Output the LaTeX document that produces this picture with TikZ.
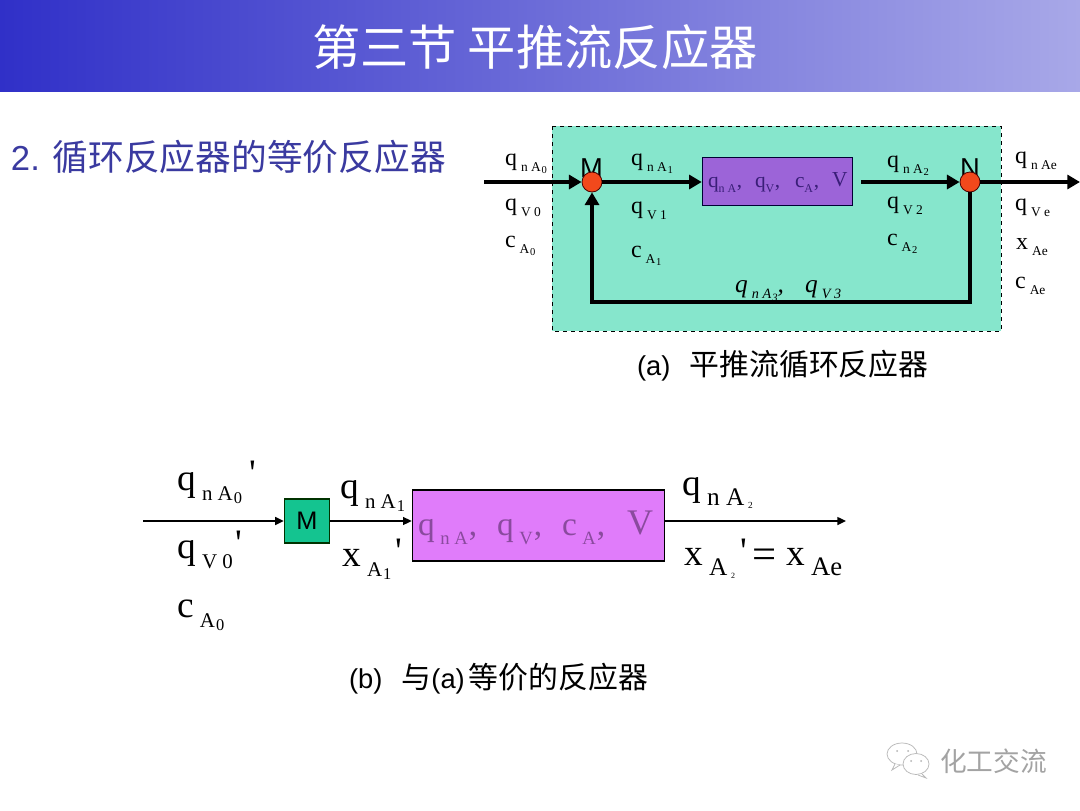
\documentclass[tikz,border=0pt]{standalone}
\usepackage{fontspec}
\setmainfont{Liberation Serif}
\newfontfamily\prm{Liberation Serif}
\newfontfamily\hv{Liberation Sans}
\newfontfamily\cjk{Noto Sans CJK SC}
\usetikzlibrary{arrows.meta}
\definecolor{tealbg}{HTML}{86E6CC}
\definecolor{purplebox}{HTML}{9C64D8}
\definecolor{pinkbox}{HTML}{E07CFA}
\definecolor{pinktext}{HTML}{8A4A9E}
\definecolor{purpletext}{HTML}{3A1E78}
\definecolor{dotred}{HTML}{F2491C}
\definecolor{mgreen}{HTML}{14C490}
\definecolor{headblue}{HTML}{3A3AA0}
\definecolor{bandleft}{HTML}{3030C8}
\definecolor{bandright}{HTML}{A8A8E8}
\newcommand\szf[1]{\fontsize{#1}{#1}\selectfont}
\def\qgap{.17em}
% size(pt), main letter, subscript, sub-subscript
\newcommand\qty[4]{{\szf{#1pt}#2\hspace{\qgap}\raisebox{-.27em}{\szf{\the\dimexpr #1pt*56/100\relax}#3}\hspace{.03em}\raisebox{-.36em}{\szf{\the\dimexpr #1pt*44/100\relax}#4}}}
\tikzset{
  lbl/.style={anchor=base west,inner sep=0pt,outer sep=0pt},
  thickflow/.style={line width=3.5pt,-{Triangle[length=9.5pt,width=10.5pt]}},
  thickpipe/.style={line width=3.5pt,line cap=butt,line join=miter},
  thinflow/.style={line width=1pt,black,-{Triangle[length=6.5pt,width=6pt]}},
  dot/.style={circle,draw=black!70!red,line width=.6pt,fill=dotred,minimum size=15pt,inner sep=0pt},
  wm/.style={draw=black!28,line width=.55pt,fill=white}
}
\begin{document}
\begin{tikzpicture}[x=.75pt,y=-.75pt]
\useasboundingbox (0,0) rectangle (1080,810);
\fill[white] (0,0) rectangle (1080,810);
\shade[left color=bandleft,right color=bandright] (0,0) rectangle (1080,91);
\node[white,inner sep=0pt] (title) at (535,47) {\cjk\szf{36.2pt}第三节 平推流反应器};
\node[lbl,text=headblue] (heading) at (11,170) {\hv\szf{26pt}2. {\cjk\szf{26.8pt}循环反应器的等价反应器}};

% --- diagram (a)
\draw[fill=tealbg,draw=black,dashed,line width=.7pt] (552,126) rectangle (1001,331);
\node[draw=black!80!blue,line width=.7pt,fill=purplebox,minimum width=113pt,minimum height=36pt,inner sep=0pt] (ra) at (777.5,181) {};
\node[lbl,text=black] (Mt) at (580,177) {\hv\szf{20.5pt}M};
\node[lbl,text=black] (Nt) at (960,177) {\hv\szf{20.5pt}N};
\node[lbl] (a14) at (735,292) {\itshape\qty{19}{q}{n A}{3}{\szf{19pt},}};
\node[lbl] (a15) at (805,292) {\itshape\qty{19}{q}{V 3}{}};
\node[dot] (Md) at (592,182) {};
\node[dot] (Nd) at (970,182) {};
\coordinate (ain) at (484,182);
\coordinate (aout) at (1080,182);
\coordinate (rout) at (861,182);
\coordinate (cr) at (970,302);
\coordinate (cl) at (592,302);
\draw[thickflow] (ain) -- (Md.west);
\draw[thickflow] (Md.east) -- (Md.east -| ra.west);
\draw[thickflow] (rout) -- (Nd.west);
\draw[thickflow] (Nd.east) -- (aout);
\draw[thickpipe] (Nd.south) -- (cr) -- (cl) -- (592,250);
\draw[thickflow] (cl) -- (Md.south);

\node[lbl] (a1) at (505,165) {\qty{18}{q}{n A}{0}};
\node[lbl] (a2) at (505,210) {\qty{18}{q}{V 0}{}};
\node[lbl] (a3) at (505,247) {\qty{18}{c}{A}{0}};
\node[lbl] (a4) at (631,165) {\qty{18}{q}{n A}{1}};
\node[lbl] (a5) at (631,213) {\qty{18}{q}{V 1}{}};
\node[lbl] (a6) at (631,257) {\qty{18}{c}{A}{1}};
\node[lbl] (a7) at (887,167) {\qty{18}{q}{n A}{2}};
\node[lbl] (a8) at (887,208) {\qty{18}{q}{V 2}{}};
\node[lbl] (a9) at (887,245) {\qty{18}{c}{A}{2}};
\node[lbl] (a10) at (1015,163) {\qty{18}{q}{n Ae}{}};
\node[lbl] (a11) at (1015,210) {\qty{18}{q}{V e}{}};
\node[lbl] (a12) at (1016,249) {\qty{18}{x}{Ae}{}};
\node[lbl] (a13) at (1015,288) {\qty{18}{c}{Ae}{}};
\def\qgap{0em}
\node[lbl,text=purpletext] (a16) at (708,187) {\qty{16}{q}{n A}{}{\szf{16pt},}};
\node[lbl,text=purpletext] (a17) at (755,187) {\qty{16}{q}{V}{}{\szf{16pt},}};
\node[lbl,text=purpletext] (a18) at (795,187) {\qty{16}{c}{A}{}{\szf{16pt},}};
\def\qgap{.17em}
\node[lbl,text=purpletext] (a19) at (832,186) {\szf{16pt}V};
\node[lbl] (capa) at (637,375) {\hv\szf{20.5pt}(a)\hspace{.7em}{\cjk\szf{22.4pt}平推流循环反应器}};

% --- diagram (b)
\node[draw=black!80!green,line width=.8pt,fill=mgreen,minimum width=34pt,minimum height=33pt,inner sep=0pt] (mb) at (307,521) {\hv\szf{19pt}M};
\node[draw=black,line width=1.2pt,fill=pinkbox,minimum width=189pt,minimum height=53pt,inner sep=0pt] (rb) at (538.5,525.5) {};
\coordinate (bin) at (143,521);
\coordinate (bout) at (846,521);
\draw[thinflow] (bin) -- (mb.west);
\draw[thinflow] (mb.east) -- (mb.east -| rb.west);
\draw[thinflow] (rb.east |- bout) -- (bout);

\node[lbl] (b1) at (177,490) {\qty{28}{q}{n A}{0}};
\node[lbl] (b2) at (249,485) {\prm\szf{28pt}'};
\node[lbl] (b3) at (177,558) {\qty{28}{q}{V 0}{}};
\node[lbl] (b4) at (235,555) {\prm\szf{28pt}'};
\node[lbl] (b5) at (177,617) {\qty{28}{c}{A}{0}};
\node[lbl] (b6) at (340,498) {\qty{28}{q}{n A}{1}};
\node[lbl] (b7) at (342,566) {\qty{28}{x}{A}{1}};
\node[lbl] (b8) at (395,563) {\prm\szf{28pt}'};
\node[lbl,text=pinktext] (b9) at (418,535) {\qty{25}{q}{n A}{}{\szf{25pt},}};
\node[lbl,text=pinktext] (b10) at (497,535) {\qty{25}{q}{V}{}{\szf{25pt},}};
\node[lbl,text=pinktext] (b11) at (562,535) {\qty{25}{c}{A}{}{\szf{25pt},}};
\node[lbl,text=pinktext] (b12) at (627,534) {\szf{27pt}V};
\node[lbl] (b13) at (682,495) {\qty{28}{q}{\szf{19pt}n A}{\,{\szf{7pt}2}}};
\node[lbl] (b14) at (684,565) {\qty{28}{x}{\szf{19pt}A}{\,{\szf{6pt}2}}};
\node[lbl] (b15) at (740,563) {\prm\szf{28pt}'};
\node[lbl] (b16) at (752,568) {\szf{32pt}=};
\node[lbl] (b17) at (786,565) {\qty{28}{x}{\szf{20pt}Ae}{}};
\node[lbl] (capb) at (349,688) {\hv\szf{20.5pt}(b)\hspace{.7em}{\cjk\szf{22.4pt}与}(a)\hspace{3pt}{\cjk\szf{22.4pt}等价的反应器}};

% --- watermark
\draw[wm] (902,754) ellipse (15 and 11);
\draw[wm] (895,764) -- (892,770) -- (900,765);
\draw[wm] (916,764) ellipse (13 and 10.5);
\draw[wm] (922,774) -- (926,778) -- (918,775);
\fill[black!30] (897,751) circle (1) (908,751) circle (1) (911,761) circle (1) (921,761) circle (1);
\node[anchor=west,inner sep=0pt,text=black!36] (wmt) at (940,761) {\cjk\szf{20pt}化工交流};
\end{tikzpicture}
\end{document}
